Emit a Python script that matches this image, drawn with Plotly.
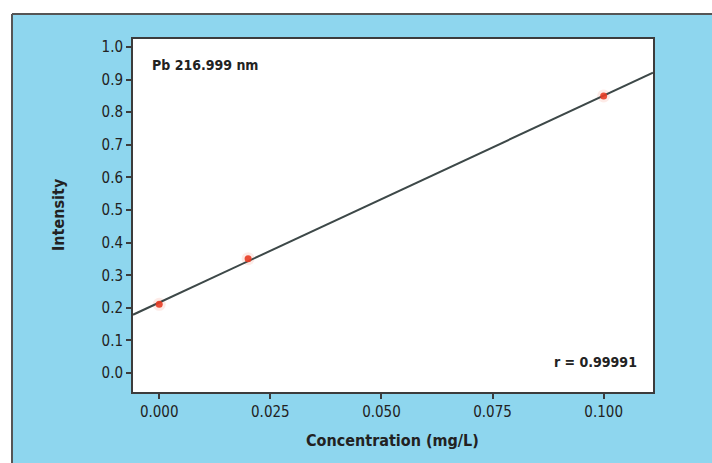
import plotly.graph_objects as go

# Data
conc = [0.0, 0.02, 0.1]
intensity = [0.211, 0.351, 0.850]
fit_x = [-0.0059, 0.1111]
fit_y = [0.179, 0.921]
x_ticks = [0.0, 0.025, 0.05, 0.075, 0.1]
x_tick_labels = ["0.000", "0.025", "0.050", "0.075", "0.100"]
y_ticks = [0.0, 0.1, 0.2, 0.3, 0.4, 0.5, 0.6, 0.7, 0.8, 0.9, 1.0]
y_tick_labels = ["0.0", "0.1", "0.2", "0.3", "0.4", "0.5", "0.6", "0.7", "0.8", "0.9", "1.0"]

W, H = 712, 463
L, R, T, B = 133, 59, 39, 71
PW, PH = W - L - R, H - T - B

def px(x):
    return (x - L) / PW

def py(y):
    return (H - B - y) / PH

FONT = "Liberation Sans Narrow, DejaVu Sans Condensed, Arial Narrow, sans-serif"
BLUE = "#8ed6ee"
TXT = "#222222"
AX = "#3c3c3c"

fig = go.Figure()
# soft glow around points
fig.add_trace(go.Scatter(x=conc, y=intensity, mode="markers",
                         marker=dict(size=13, color="rgba(240,90,60,0.12)", line=dict(width=0)),
                         hoverinfo="skip", showlegend=False))
fig.add_trace(go.Scatter(x=fit_x, y=fit_y, mode="lines",
                         line=dict(color="#3d4848", width=2), showlegend=False))
fig.add_trace(go.Scatter(x=conc, y=intensity, mode="markers",
                         marker=dict(size=7, color="rgba(232,60,35,0.9)", line=dict(width=0)),
                         showlegend=False))

axis_common = dict(showline=True, linecolor=AX, linewidth=2, mirror=True,
                   ticks="outside", ticklen=5, tickwidth=1.5, tickcolor=AX,
                   showgrid=False, zeroline=False,
                   tickfont=dict(family=FONT, size=15, color=TXT))

fig.update_xaxes(range=[-0.0059, 0.1111], tickvals=x_ticks, ticktext=x_tick_labels, **axis_common)
fig.update_yaxes(range=[-0.058, 1.0245], tickvals=y_ticks, ticktext=y_tick_labels, **axis_common)

annotations = [
    dict(text="<b>Pb 216.999 nm</b>", xref="paper", yref="paper", x=px(150), y=py(65),
         xanchor="left", yanchor="middle", showarrow=False,
         font=dict(family=FONT, size=14, color=TXT)),
    dict(text="<b>r = 0.99991</b>", xref="paper", yref="paper", x=px(639), y=py(362),
         xanchor="right", yanchor="middle", showarrow=False,
         font=dict(family=FONT, size=14, color=TXT)),
    dict(text="<b>Concentration (mg/L)</b>", xref="paper", yref="paper", x=px(392), y=py(441),
         xanchor="center", yanchor="middle", showarrow=False,
         font=dict(family=FONT, size=16, color=TXT)),
    dict(text="<b>Intensity</b>", xref="paper", yref="paper", x=px(58), y=py(215),
         xanchor="center", yanchor="middle", showarrow=False, textangle=-90,
         font=dict(family=FONT, size=16, color=TXT)),
]

shapes = [
    dict(type="rect", xref="paper", yref="paper", x0=px(-5), x1=px(W + 5), y0=py(14), y1=py(-5),
         fillcolor="white", line=dict(width=0), layer="below"),
    dict(type="rect", xref="paper", yref="paper", x0=px(-5), x1=px(12), y0=py(H + 5), y1=py(-5),
         fillcolor="white", line=dict(width=0), layer="below"),
    dict(type="line", xref="paper", yref="paper", x0=px(12), x1=px(W + 5), y0=py(14), y1=py(14),
         line=dict(color="#555555", width=2)),
    dict(type="line", xref="paper", yref="paper", x0=px(12), x1=px(12), y0=py(14), y1=py(H + 5),
         line=dict(color="#555555", width=2)),
]

fig.update_layout(width=W, height=H, margin=dict(l=L, r=R, t=T, b=B),
                  paper_bgcolor=BLUE, plot_bgcolor="white",
                  annotations=annotations, shapes=shapes, showlegend=False)

fig.write_html("out.html", config={"displayModeBar": False},
               post_script="document.body.style.margin='0';document.body.style.overflow='hidden';")
